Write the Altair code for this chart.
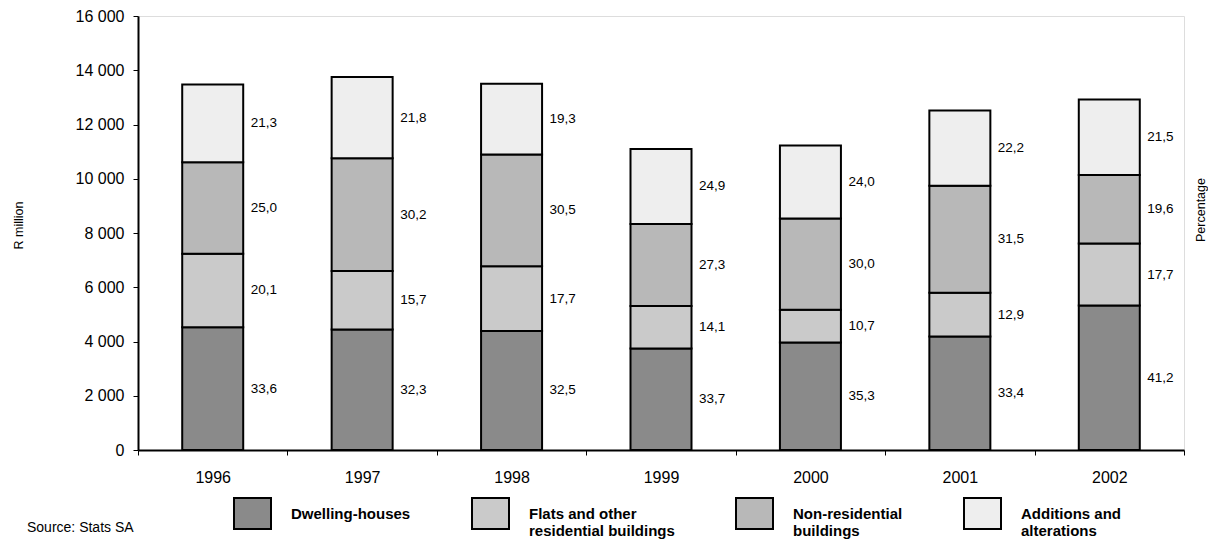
import altair as alt
import pandas as pd

years = ["1996", "1997", "1998", "1999", "2000", "2001", "2002"]
categories = [
    "Dwelling-houses",
    "Flats and other residential buildings",
    "Non-residential buildings",
    "Additions and alterations",
]
# R million
dwelling = [4529, 4441, 4388, 3741, 3964, 4182, 5323]
flats = [2709, 2159, 2390, 1565, 1202, 1615, 2287]
nonres = [3370, 4153, 4118, 3030, 3369, 3944, 2532]
additions = [2871, 2998, 2606, 2764, 2695, 2779, 2778]
# percentage labels
pct_dwelling = ["33,6", "32,3", "32,5", "33,7", "35,3", "33,4", "41,2"]
pct_flats = ["20,1", "15,7", "17,7", "14,1", "10,7", "12,9", "17,7"]
pct_nonres = ["25,0", "30,2", "30,5", "27,3", "30,0", "31,5", "19,6"]
pct_additions = ["21,3", "21,8", "19,3", "24,9", "24,0", "22,2", "21,5"]

colors = ["#8a8a8a", "#cacaca", "#b8b8b8", "#eeeeee"]

series = [dwelling, flats, nonres, additions]
pcts = [pct_dwelling, pct_flats, pct_nonres, pct_additions]
rows = []
for ci, cat in enumerate(categories):
    for yi, yr in enumerate(years):
        rows.append({"year": yr, "category": cat, "idx": ci,
                     "value": series[ci][yi], "pct": pcts[ci][yi]})
df = pd.DataFrame(rows)

FONT = "Liberation Sans"

label_lines = {
    "Flats and other residential buildings": ["Flats and other", "residential buildings"],
    "Non-residential buildings": ["Non-residential", "buildings"],
    "Additions and alterations": ["Additions and", "alterations"],
}
expr = "datum.label"
for k, v in label_lines.items():
    expr = f"datum.label == '{k}' ? ['{v[0]}', '{v[1]}'] : ({expr})"

base = alt.Chart(df).transform_stack(
    stack="value", groupby=["year"], as_=["y0", "y1"],
    sort=[alt.SortField(field="idx", order="ascending")],
)

x_enc = alt.X(
    "year:O", title=None,
    scale=alt.Scale(paddingInner=0, paddingOuter=0),
    axis=alt.Axis(labelAngle=0, labelFontSize=16, labelColor="black", labelFont=FONT,
                  tickBand="extent", tickSize=5, tickColor="black", domainColor="black",
                  domainWidth=2, labelPadding=14),
)

bars = base.mark_bar(size=61, stroke="black", strokeWidth=2).encode(
    x=x_enc,
    y=alt.Y("y0:Q", title="R million",
            scale=alt.Scale(domain=[0, 16000], nice=False),
            axis=alt.Axis(values=list(range(0, 16001, 2000)), grid=False,
                          labelExpr="replace(format(datum.value, ','), ',', ' ')",
                          labelFontSize=16, labelColor="black", labelFont=FONT,
                          tickSize=5, tickColor="black", domainColor="black", domainWidth=2,
                          labelPadding=9, titleFontSize=12.5, titleFontWeight="normal",
                          titleFont=FONT, titleColor="black", titleX=-120, titleY=209,
                          titleAlign="center", titleBaseline="middle", titleAngle=-90)),
    y2="y1:Q",
    fill=alt.Fill("category:N", scale=alt.Scale(domain=categories, range=colors),
                  legend=alt.Legend(
                      title=None, orient="none", legendX=95, legendY=478,
                      direction="horizontal", columns=4, columnPadding=57,
                      symbolType="M-1,-0.84H1V0.84H-1Z", symbolSize=1369,
                      symbolStrokeColor="black", symbolStrokeWidth=2,
                      labelFontSize=15, labelFontWeight="bold", labelFont=FONT,
                      labelColor="black", labelOffset=19, labelLimit=0,
                      labelExpr=expr, gridAlign="none")),
)

labels = base.transform_calculate(mid="(datum.y0 + datum.y1) / 2").mark_text(
    align="left", baseline="middle", dx=38, fontSize=13.5, font=FONT, color="black"
).encode(x=alt.X("year:O"), y=alt.Y("mid:Q"), text="pct:N")

right_title = alt.Chart(pd.DataFrame({"t": ["Percentage"]})).mark_text(
    angle=270, fontSize=12.5, font=FONT, color="black", align="center", baseline="middle"
).encode(x=alt.value(1063), y=alt.value(194), text="t:N")

source = alt.Chart(pd.DataFrame({"t": ["Source: Stats SA"]})).mark_text(
    align="left", baseline="middle", fontSize=14, font=FONT, color="black"
).encode(x=alt.value(-111), y=alt.value(512), text="t:N")

chart = alt.layer(bars, labels, right_title, source).properties(
    width=1046, height=434,
    autosize=alt.AutoSizeParams(type="none"),
    padding={"left": 130, "top": 8, "right": 24, "bottom": 92},
).configure_view(stroke="black", strokeWidth=1.5).configure(font=FONT)

chart.save("out.html", embed_options={"renderer": "svg", "actions": False})
